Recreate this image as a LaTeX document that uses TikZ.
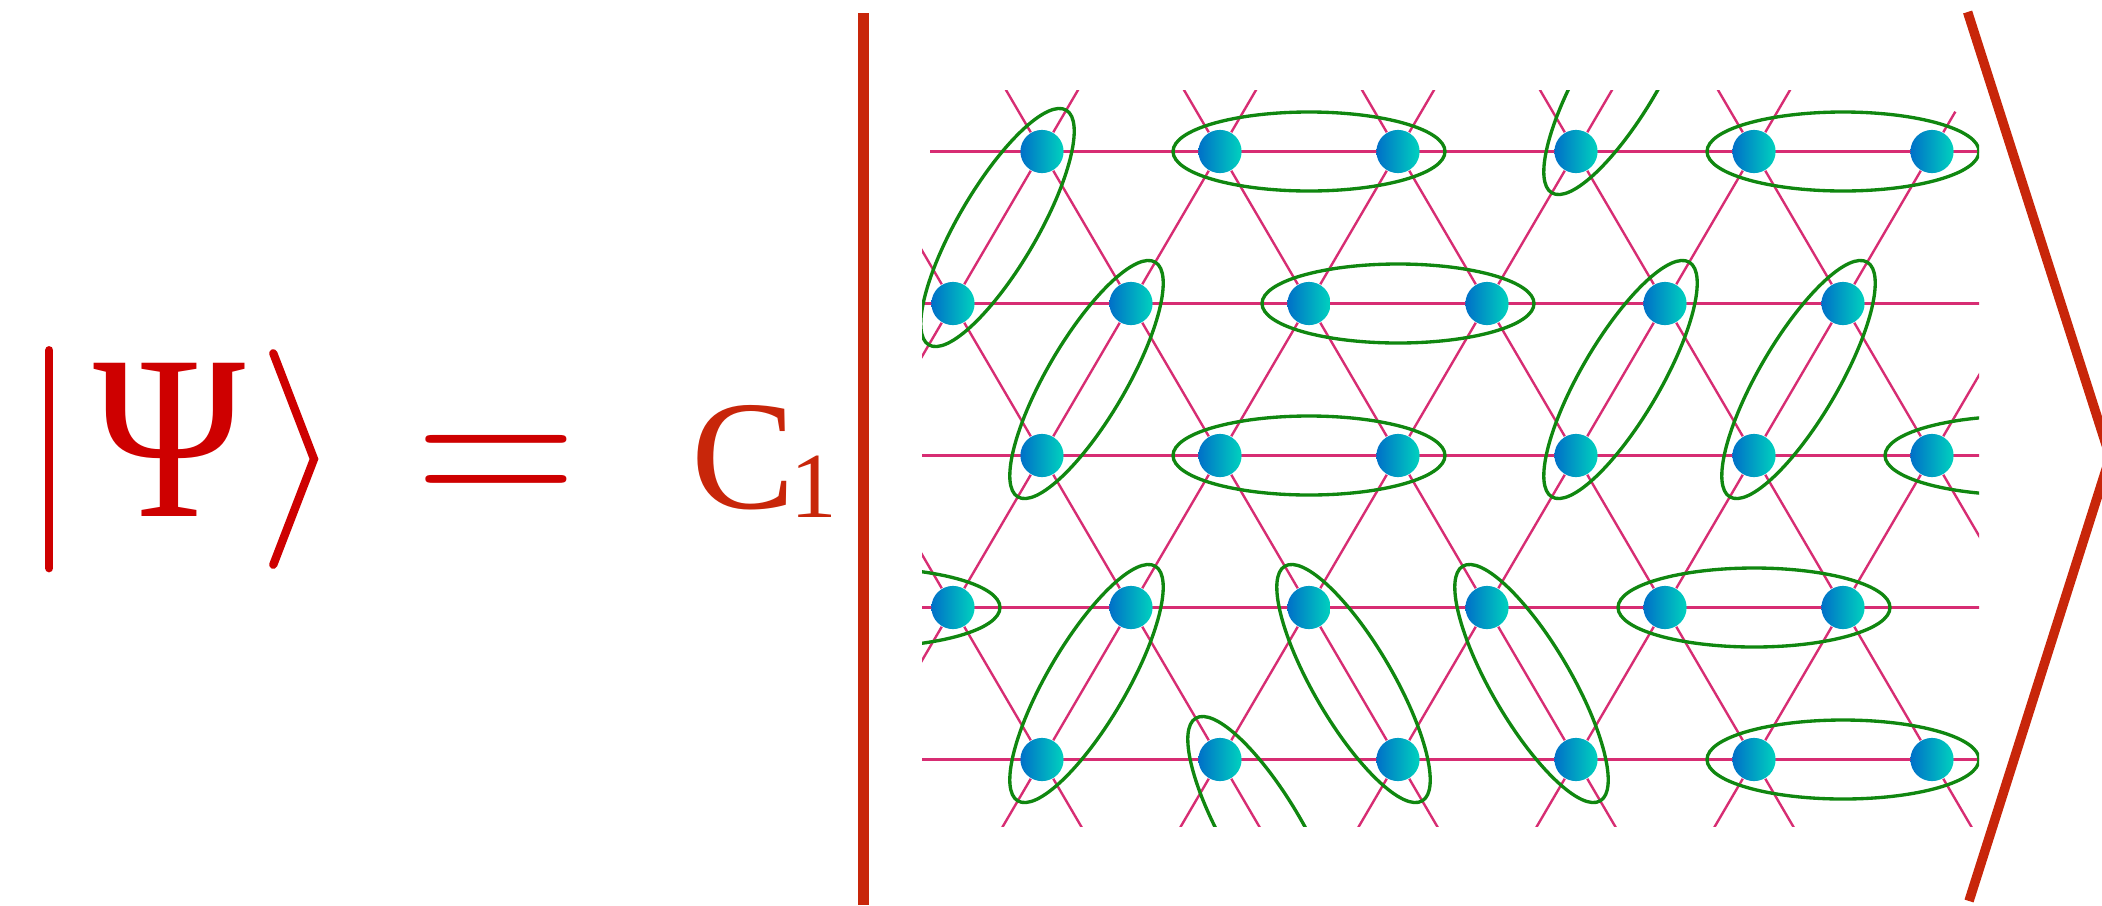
\documentclass[tikz,border=0pt]{standalone}
\usepackage{fontspec}
\usepackage{tikz}
\usetikzlibrary{calc, backgrounds}
\newfontfamily\timesfont{Liberation Serif}
\definecolor{ketred}{RGB}{206,0,0}
\definecolor{brared}{RGB}{200,38,10}
\definecolor{bondpink}{RGB}{215,45,115}
\definecolor{dimergreen}{RGB}{16,135,16}
\definecolor{siteblue}{RGB}{0,112,200}
\definecolor{siteteal}{RGB}{0,210,190}

\begin{document}
\begin{tikzpicture}[
    bond/.style={bondpink, line width=0.68pt},
    dimer/.style={dimergreen, line width=0.95pt},
    site/.style={circle, minimum size=0.432cm, inner sep=0pt,
                 left color=siteblue, right color=siteteal},
    ket/.style={ketred, line width=2.36pt, line cap=round},
    bra/.style={brared, line width=3pt}
]
  \useasboundingbox (0,0) rectangle (21.02,9.05);

  % Lattice sites, with a ring of ghost points outside the frame
  \foreach \r in {0,...,6} {
    \foreach \c in {0,...,7} {
      \pgfmathsetmacro\xx{9.53+0.89*mod(\r,2)+1.78*(\c-1)}
      \pgfmathsetmacro\yy{7.535-1.52*(\r-1)}
      \pgfmathtruncatemacro\real{(\r>0)&&(\r<6)&&(\c>0)&&(\c<7)}
      \ifnum\real=1
        \node[site] (p-\r-\c) at (\xx,\yy) {};
      \else
        \coordinate (p-\r-\c) at (\xx,\yy);
      \fi
    }
  }

  % Bonds that the lattice leaves out
  \foreach \s in {0-6-R,0-7-L,1-6-R,4-7-L,5-6-L}
    \expandafter\gdef\csname nobond-\s\endcsname{};

  \begin{scope}[on background layer]
    \clip (9.22,0.783) rectangle (19.79,8.143);
    % Horizontal bonds
    \foreach \r in {0,2,3,4,5,6}
      \draw[bond] (p-\r-0) -- (p-\r-7);
    \coordinate (rowstart) at ($(p-1-0)+(0.66,0)$);
    \draw[bond] (rowstart) -- (p-1-7);
    % Slanted bonds, down-left and down-right
    \foreach \r in {0,...,5} {
      \foreach \c in {0,...,7} {
        \pgfmathtruncatemacro\rnext{\r+1}
        \pgfmathtruncatemacro\cleft{\c-1+mod(\r,2)}
        \pgfmathtruncatemacro\cright{\c+mod(\r,2)}
        \ifcsname nobond-\r-\c-L\endcsname\else
          \ifnum\cleft>-1 \draw[bond] (p-\r-\c) -- (p-\rnext-\cleft);\fi
        \fi
        \ifcsname nobond-\r-\c-R\endcsname\else
          \ifnum\cright<8 \draw[bond] (p-\r-\c) -- (p-\rnext-\cright);\fi
        \fi
      }
    }
    \coordinate (stub) at ($(p-1-6)!0.262!(p-0-7)$);
    \draw[bond] (p-1-6) -- (stub);

    % Dimers
    \foreach \a/\b in {1-1/2-1, 1-2/1-3, 1-4/0-5, 1-5/1-6, 2-2/3-1, 2-3/2-4,
                       2-5/3-4, 2-6/3-5, 3-2/3-3, 3-6/3-7, 4-1/4-0, 4-2/5-1,
                       4-3/5-3, 4-4/5-4, 4-5/4-6, 5-2/6-3, 5-5/5-6}
      \draw[dimer] let \p1=($(p-\b)-(p-\a)$), \n1={atan2(\y1,\x1)} in
        ($(p-\a)!0.5!(p-\b)$) circle [x radius=1.36, y radius=0.395, rotate=\n1];
  \end{scope}

  % Left-hand side
  \draw[ket] (0.492,5.548) -- (0.492,3.368);
  \node[text=ketred, inner sep=0pt, anchor=base] (psi) at (1.69,3.89)
    {\timesfont\fontsize{66.6}{70}\selectfont\scalebox{0.88}[1]{Ψ}};
  \draw[ket] (2.733,5.517) -- (3.14,4.46) -- (2.733,3.403);
  \node[text=ketred, inner sep=0pt, anchor=base] (eq) at (4.96,3.8925)
    {\fontsize{64}{70}\selectfont =};
  \node[text=brared, inner sep=0pt, anchor=base west] (coef) at (6.91,3.965)
    {\timesfont\fontsize{44.3}{46}\selectfont C\kern-1.3pt\raisebox{-2.6pt}{\fontsize{26.5}{28}\selectfont 1}};

  % Big ket around the lattice
  \draw[bra] (8.635,8.916) -- (8.635,0);
  \draw[bra, line width=2.7pt] (19.676,8.93) -- (21.10,4.48) -- (19.69,0.04);
\end{tikzpicture}
\end{document}
